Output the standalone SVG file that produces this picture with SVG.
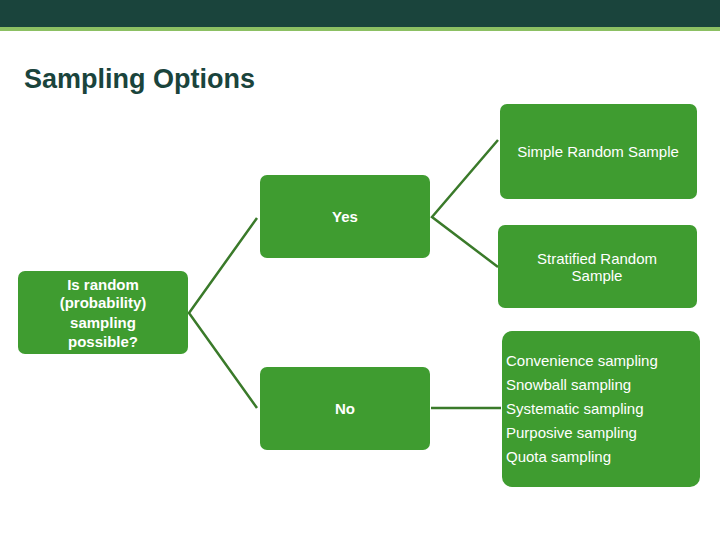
<svg xmlns="http://www.w3.org/2000/svg" width="720" height="540" viewBox="0 0 720 540">
<style>
.b{fill:#3f9c30}
.t{font-family:"Liberation Sans",Arial,sans-serif;fill:#fff;font-size:15px;text-anchor:middle}
.bd{font-weight:bold}
.l{stroke:#3a7a2a;stroke-width:2.5;fill:none}
</style>
<rect x="0" y="0" width="720" height="27" fill="#1a443c"/>
<rect x="0" y="27" width="720" height="4" fill="#8cc063"/>
<text x="24" y="88" font-family="Liberation Sans,Arial,sans-serif" font-size="27" font-weight="bold" fill="#1a443c">Sampling Options</text>
<g id="connectors">
<polyline class="l" points="257,218 189,313 257,408"/>
<polyline class="l" points="498,140 432,217 498,267"/>
<line class="l" x1="431" y1="408" x2="501" y2="408"/>
</g>
<g id="root"><rect class="b" x="18" y="271" width="170" height="83" rx="7"/>
<text class="t bd" x="103" y="290">Is random</text><text class="t bd" x="103" y="308">(probability)</text><text class="t bd" x="103" y="328">sampling</text><text class="t bd" x="103" y="347">possible?</text></g>
<g id="yes"><rect class="b" x="260" y="175" width="170" height="83" rx="7"/><text class="t bd" x="345" y="222" font-size="16">Yes</text></g>
<g id="no"><rect class="b" x="260" y="367" width="170" height="83" rx="7"/><text class="t bd" x="345" y="414" font-size="16">No</text></g>
<g id="srs"><rect class="b" x="500" y="104" width="197" height="95" rx="7"/><text class="t" x="598" y="157">Simple Random Sample</text></g>
<g id="strat"><rect class="b" x="498" y="225" width="199" height="83" rx="7"/><text class="t" x="597" y="264">Stratified Random</text><text class="t" x="597" y="281">Sample</text></g>
<g id="nonrandom"><rect class="b" x="502" y="331" width="198" height="156" rx="10"/>
<g class="t" style="text-anchor:start"><text x="506" y="366">Convenience sampling</text><text x="506" y="390">Snowball sampling</text><text x="506" y="414">Systematic sampling</text><text x="506" y="438">Purposive sampling</text><text x="506" y="462">Quota sampling</text></g></g>
</svg>
